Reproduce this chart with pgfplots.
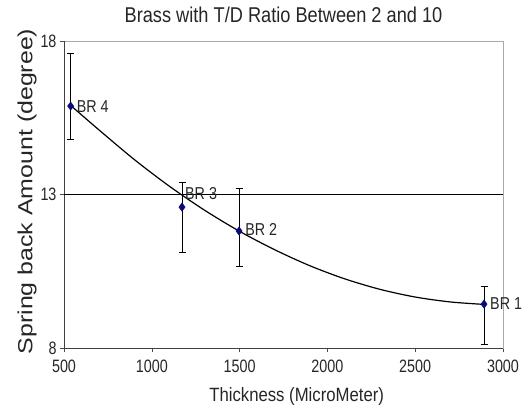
\documentclass[border=0pt]{standalone}
\usepackage{pgfplots}
\pgfplotsset{compat=1.18}
\usepackage{fontspec}
\setmainfont{Liberation Sans}
\newfontfamily\titlefont[FakeStretch=0.85]{Liberation Sans}
\newfontfamily\xlabfont[FakeStretch=0.87]{Liberation Sans}
\newfontfamily\ylabfont[FakeStretch=1.22]{Liberation Sans}
\newfontfamily\tickfont[FakeStretch=0.80]{Liberation Sans}
\newfontfamily\brfont[FakeStretch=0.83]{Liberation Sans}
\usetikzlibrary{calc}
\definecolor{marknavy}{RGB}{10,10,120}
\definecolor{frame}{RGB}{170,170,170}

\pgfplotstableread{
x     y      ep    em
538   15.88  1.70  1.10
1172  12.59  0.81  1.49
1497  11.81  1.37  1.17
2892  9.43   0.57  1.33
}\brass

\begin{document}
\begin{tikzpicture}
\begin{axis}[
  name=ax,
  scale only axis,
  width=439bp, height=307bp,
  xmin=500, xmax=3000, ymin=8, ymax=18,
  xtick={500,1000,...,3000},
  ytick={8,13,18},
  xtick pos=bottom, ytick pos=left,
  tick align=outside,
  tick style={black!70, line width=0.6pt},
  major tick length=4bp,
  axis line style={frame, line width=0.8pt},
  clip=false,
  /pgf/number format/assume math mode=true,
  /pgf/number format/1000 sep={},
  tick label style={font=\tickfont\fontsize{18}{20}\selectfont, text=black!85},
  xticklabel style={yshift=-4bp},
  title={Brass with T/D Ratio Between 2 and 10},
  title style={font=\titlefont\fontsize{21.5}{24}\selectfont, text=black!85,
    at={(axis description cs:0.5,1.0414)}, anchor=base},
  xlabel={Thickness (MicroMeter)},
  ylabel={Spring back Amount (degree)},
  xlabel style={font=\xlabfont\fontsize{19.3}{22}\selectfont, text=black!85,
    at={(axis description cs:0.53,-0.175)}, anchor=base},
  ylabel style={font=\ylabfont\fontsize{20.5}{23}\selectfont, text=black!85,
    at={(axis description cs:-0.0843,0.51)}, anchor=center},
]
% left and bottom axis lines drawn darker than the frame
\draw[black!75, line width=0.9pt] (axis cs:500,18) -- (axis cs:500,8) -- (axis cs:3000,8);
% reference level
\addplot[black, line width=0.8pt, forget plot] coordinates {(500,13) (3000,13)};
% trend curve
\addplot[black, line width=1.2pt, smooth] coordinates {
(538,15.90) (700,15.10) (900,14.14) (1100,13.27) (1300,12.49) (1500,11.80)
(1700,11.20) (1900,10.68) (2100,10.25) (2300,9.91) (2500,9.66) (2700,9.50) (2892,9.42)};
% measured points with spread
\addplot[only marks, mark=diamond*, mark size=4.2pt, marknavy,
  mark options={draw=marknavy, fill=marknavy},
  error bars/.cd, y dir=both, y explicit,
  error bar style={black, line width=1pt},
  error mark options={black, line width=1pt, mark size=3.5bp, rotate=90}]
  table[x=x, y=y, y error plus=ep, y error minus=em] {\brass};
\tikzset{brlab/.style={anchor=west, font=\brfont\fontsize{17.3}{19}\selectfont, text=black!85, inner sep=0pt}}
\node[brlab, xshift=6bp] at (axis cs:538,15.88) {BR 4};
\node[brlab, xshift=3bp] at (axis cs:1172,13.03) {BR 3};
\node[brlab, xshift=6bp] at (axis cs:1497,11.85) {BR 2};
\node[brlab, xshift=6bp] at (axis cs:2892,9.45) {BR 1};
\end{axis}
\pgfresetboundingbox
\path ($(ax.south west)+(-64bp,-62bp)$) rectangle ($(ax.south west)+(461bp,348bp)$);
\end{tikzpicture}
\end{document}
